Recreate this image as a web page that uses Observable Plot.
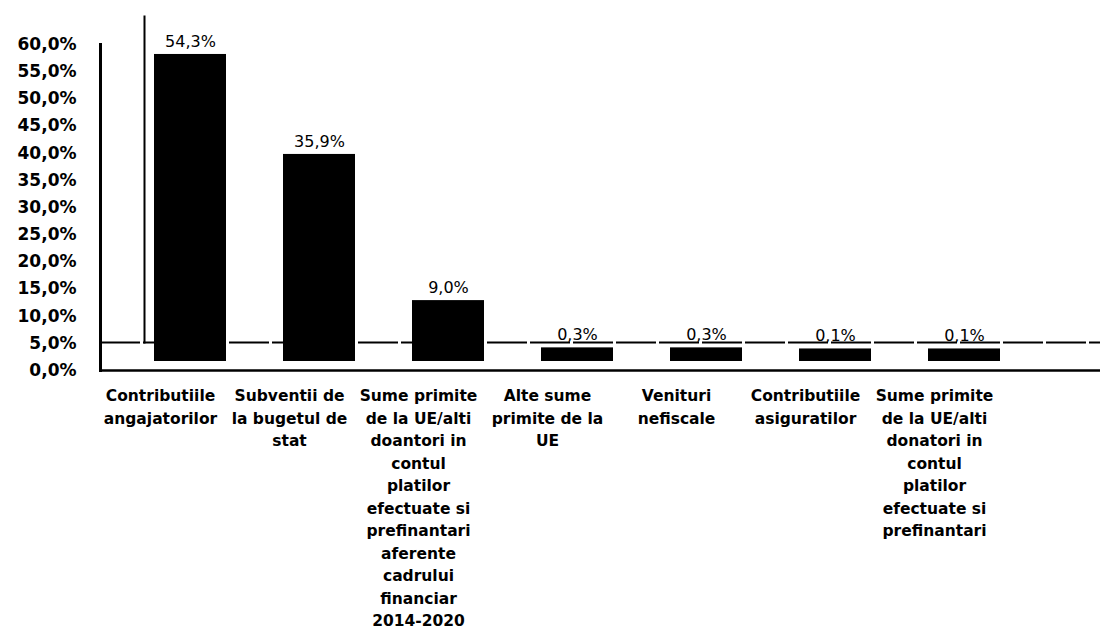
<!DOCTYPE html>
<html>
<head>
<meta charset="utf-8">
<script src="https://cdn.jsdelivr.net/npm/d3@7"></script>
<script src="https://cdn.jsdelivr.net/npm/@observablehq/plot@0.6"></script>
<style>
  html, body { margin: 0; padding: 0; background: #fff; }
  #chart { width: 1109px; height: 639px; }
</style>
</head>
<body>
<div id="chart"></div>
<script>
const categories = [
  "Contributiile\nangajatorilor",
  "Subventii de\nla bugetul de\nstat",
  "Sume primite\nde la UE/alti\ndoantori in\ncontul\nplatilor\nefectuate si\nprefinantari\naferente\ncadrului\nfinanciar\n2014-2020",
  "Alte sume\nprimite de la\nUE",
  "Venituri\nnefiscale",
  "Contributiile\nasiguratilor",
  "Sume primite\nde la UE/alti\ndonatori in\ncontul\nplatilor\nefectuate si\nprefinantari"
];
const values = [54.3, 35.9, 9.0, 0.3, 0.3, 0.1, 0.1];
const yTicks = [0, 5, 10, 15, 20, 25, 30, 35, 40, 45, 50, 55, 60];

const data = categories.map((c, i) => ({category: c, value: values[i]}));
const pct = d => d.toFixed(1).replace(".", ",") + "%";
const font = "DejaVu Sans, Verdana, sans-serif";

const chart = Plot.plot({
  width: 1109,
  height: 639,
  marginLeft: 100,
  marginRight: 9,
  marginTop: 44,
  marginBottom: 269,
  style: {fontFamily: font, background: "#fff", color: "#000"},
  x: {domain: categories, range: [93, 1001], paddingInner: 0.44, paddingOuter: 0.22, label: null},
  y: {domain: [0, 60], label: null},
  marks: [
    Plot.frame({anchor: "left", stroke: "#000", strokeWidth: 3}),
    Plot.frame({anchor: "left", stroke: "#000", strokeWidth: 2, dx: 44, dy: -28}),
    Plot.ruleY([0], {stroke: "#000", strokeWidth: 2, dy: -28, strokeDasharray: "40,3"}),
    Plot.ruleY([0], {stroke: "#000", strokeWidth: 2.5}),
    Plot.barY(data, {x: "category", y: "value", fill: "#000", dx: 30, dy: -9, insetTop: -12}),
    Plot.text(data, {x: "category", y: "value", text: d => pct(d.value), dx: 30, dy: -34,
      fontSize: 16, fill: "#000", fontFamily: font}),
    Plot.axisY({ticks: yTicks, tickFormat: pct, tickSize: 0, tickPadding: 24,
      fontSize: 17, fontWeight: "bold", fill: "#000"}),
    Plot.axisX({tickSize: 0, tickPadding: 15, fontSize: 15.5, fontWeight: "bold",
      lineHeight: 1.45, fill: "#000", textAnchor: "middle"})
  ]
});
document.getElementById("chart").append(chart);
</script>
</body>
</html>
